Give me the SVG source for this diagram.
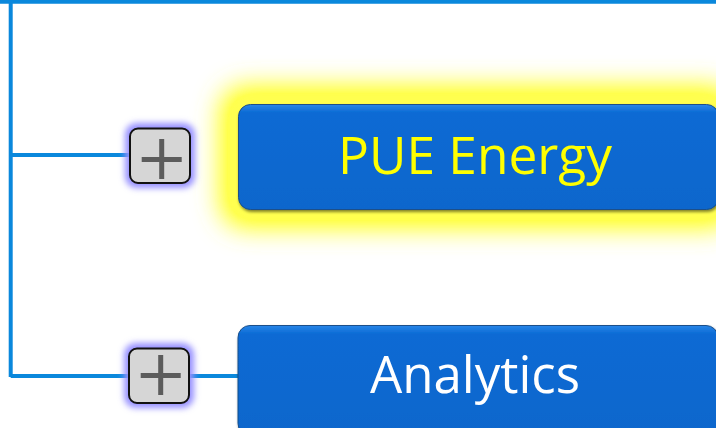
<svg xmlns="http://www.w3.org/2000/svg" width="716" height="428" viewBox="0 0 716 428">
<style>
.line{stroke:#0a88dc;stroke-width:4;fill:none}
.tog rect{fill:#d6d6d6;stroke:#111;stroke-width:2}
.tog path{stroke:#5c5c5c;stroke-width:5;fill:none}
.lbl{font-family:"Open Sans","Noto Sans",sans-serif;font-size:51px;text-anchor:middle}
</style>
<defs>
<linearGradient id="nodeFill" x1="0" y1="0" x2="0" y2="1">
<stop offset="0" stop-color="#2a86e8"/>
<stop offset="0.08" stop-color="#0a6ad4"/>
<stop offset="1" stop-color="#0866cc"/>
</linearGradient>
<linearGradient id="conn1" x1="0" y1="0" x2="1" y2="0">
<stop offset="0" stop-color="#0a7ee0"/>
<stop offset="0.3" stop-color="#0a7ee0"/>
<stop offset="1" stop-color="#9ccc40"/>
</linearGradient>
<filter id="yglow" x="-20%" y="-60%" width="140%" height="220%">
<feGaussianBlur stdDeviation="13"/>
<feComponentTransfer><feFuncA type="linear" slope="1.4"/></feComponentTransfer>
</filter>
<filter id="pglow" x="-50%" y="-50%" width="200%" height="200%">
<feGaussianBlur stdDeviation="3"/>
</filter>
<filter id="shadow" x="-10%" y="-20%" width="120%" height="140%">
<feGaussianBlur in="SourceAlpha" stdDeviation="1.5"/>
<feOffset dx="1" dy="1.5"/>
<feComponentTransfer><feFuncA type="linear" slope="0.5"/></feComponentTransfer>
<feMerge><feMergeNode/><feMergeNode in="SourceGraphic"/></feMerge>
</filter>
</defs>
<rect width="716" height="428" fill="#fff"/>
<g id="connectors">
<path class="line" d="M0 1.8H716M10.7 0V377M10.7 155H131M10.7 376H131"/>
<path d="M190 155H238" stroke="url(#conn1)" stroke-width="5" fill="none"/>
<path class="line" d="M190 376H238" stroke-width="5"/>
</g>
<g id="node-pue">
<rect x="220" y="86" width="516" height="142" rx="26" fill="#ffff50" filter="url(#yglow)"/>
<rect x="238.5" y="104.5" width="480" height="105" rx="12" fill="url(#nodeFill)" stroke="#1a4f8a" stroke-width="1" filter="url(#shadow)"/>
<text class="lbl" x="475" y="173.5" fill="#ffff00" font-weight="500" textLength="274" lengthAdjust="spacingAndGlyphs">PUE Energy</text>
</g>
<g id="toggle-pue" class="tog">
<rect x="125" y="123" width="70" height="65" rx="12" style="fill:#9690ff;stroke:none" filter="url(#pglow)"/>
<rect x="130" y="128.5" width="60" height="54.5" rx="8"/>
<path d="M141.7 159.5H181.7M161.7 139V179"/>
</g>
<g id="node-analytics">
<rect x="238" y="325.5" width="480" height="110" rx="12" fill="url(#nodeFill)" stroke="#1a4f8a" stroke-width="1" filter="url(#shadow)"/>
<text class="lbl" x="475" y="393" fill="#ffffff" textLength="210" lengthAdjust="spacingAndGlyphs">Analytics</text>
</g>
<g id="toggle-analytics" class="tog">
<rect x="124" y="343" width="70" height="65" rx="12" style="fill:#9690ff;stroke:none" filter="url(#pglow)"/>
<rect x="129" y="348.5" width="60" height="54.5" rx="8"/>
<path d="M140.7 375.5H180.7M160.7 355V395"/>
</g>
</svg>
